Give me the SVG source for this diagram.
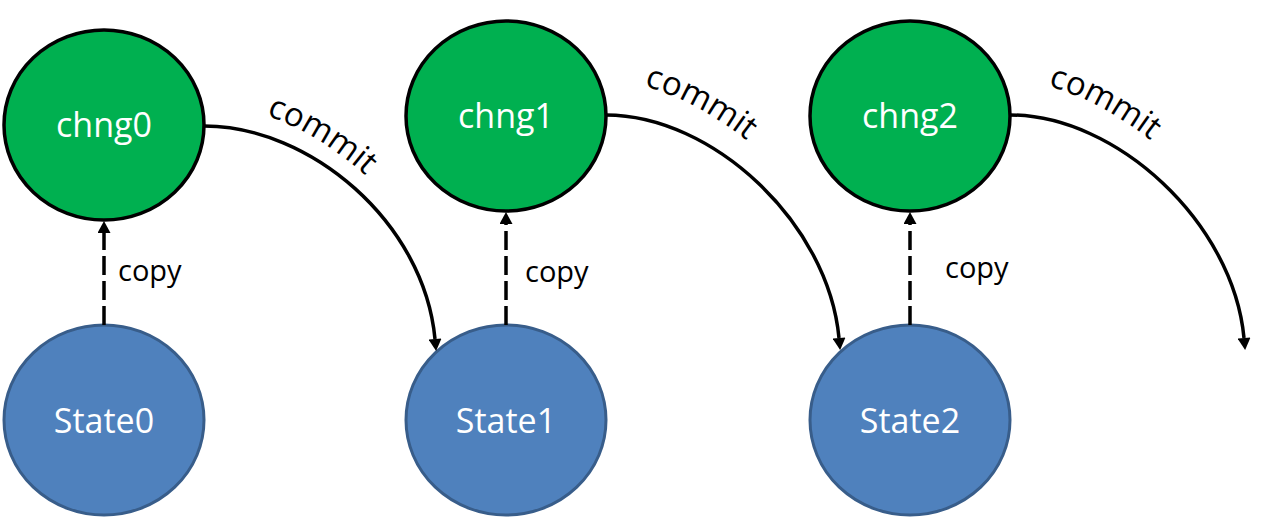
<svg xmlns="http://www.w3.org/2000/svg" width="1276" height="528" viewBox="0 0 1276 528">
  <style>
    .chng { fill: #00B050; stroke: #000000; stroke-width: 3.5; }
    .state { fill: #4F81BD; stroke: #385D8A; stroke-width: 3; }
    .nlabel { font-family: "Open Sans", "Noto Sans", sans-serif; font-size: 34px; fill: #FFFFFF; text-anchor: middle; }
    .elabel { font-family: "Open Sans", "Noto Sans", sans-serif; fill: #000000; }
    .copy { font-size: 29px; }
    .commit { font-size: 33px; }
    .conn { fill: none; stroke: #000000; stroke-width: 3.5; }
    .dash { stroke-dasharray: 19 6; }
  </style>
  <defs>
    <marker id="arrow" markerUnits="userSpaceOnUse" markerWidth="13" markerHeight="13" refX="0" refY="6.5" orient="auto" viewBox="0 0 12 13">
      <path d="M0,0 L12,6.5 L0,13 Z" fill="#000000"/>
    </marker>
    <path id="tp0" d="M204,104 C312,104 446,220 457,337"/>
    <path id="tp1" d="M606,81 C712,81 862,219 873,335"/>
    <path id="tp2" d="M1010,81 C1116,81 1266,219 1277,335"/>
  </defs>

  <g id="chng0">
    <ellipse class="chng" cx="104" cy="125" rx="100" ry="95"/>
    <text class="nlabel" x="104" y="137">chng0</text>
  </g>
  <g id="chng1">
    <ellipse class="chng" cx="506" cy="116" rx="100" ry="95"/>
    <text class="nlabel" x="506" y="128">chng1</text>
  </g>
  <g id="chng2">
    <ellipse class="chng" cx="910" cy="116" rx="100" ry="95"/>
    <text class="nlabel" x="910" y="128">chng2</text>
  </g>
  <g id="State0">
    <ellipse class="state" cx="104" cy="420" rx="100" ry="95"/>
    <text class="nlabel" x="104" y="433">State0</text>
  </g>
  <g id="State1">
    <ellipse class="state" cx="506" cy="420" rx="100" ry="95"/>
    <text class="nlabel" x="506" y="433">State1</text>
  </g>
  <g id="State2">
    <ellipse class="state" cx="910" cy="420" rx="100" ry="95"/>
    <text class="nlabel" x="910" y="433">State2</text>
  </g>

  <g id="connectors">
    <path class="conn dash" d="M104,325 L104,233" marker-end="url(#arrow)"/>
    <path class="conn dash" d="M506,325 L506,224" marker-end="url(#arrow)"/>
    <path class="conn dash" d="M910,325 L910,224" marker-end="url(#arrow)"/>
    <text class="elabel copy" x="118" y="281">copy</text>
    <text class="elabel copy" x="525" y="282">copy</text>
    <text class="elabel copy" x="945" y="278">copy</text>

    <path class="conn" d="M204,126 C310,126 424,222 435,339" marker-end="url(#arrow)"/>
    <path class="conn" d="M606,115 C712,115 828,222 839,338" marker-end="url(#arrow)"/>
    <path class="conn" d="M1010,115 C1116,115 1233,222 1244,338" marker-end="url(#arrow)"/>
    <text class="elabel commit"><textPath href="#tp0" startOffset="122" text-anchor="middle">commit</textPath></text>
    <text class="elabel commit"><textPath href="#tp1" startOffset="97" text-anchor="middle">commit</textPath></text>
    <text class="elabel commit"><textPath href="#tp2" startOffset="97" text-anchor="middle">commit</textPath></text>
  </g>
</svg>
